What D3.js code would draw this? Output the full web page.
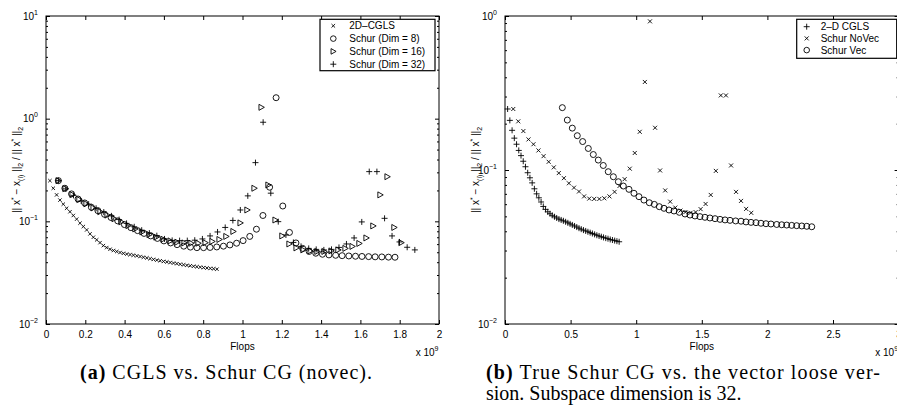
<!DOCTYPE html>
<html>
<head>
<meta charset="utf-8">
<script src="https://cdn.jsdelivr.net/npm/d3@7"></script>
<style>
  body { margin: 0; background: #fff; }
  svg { display: block; font-family: "Liberation Sans", Arial, sans-serif; }
</style>
</head>
<body>
<div id="chart"></div>
<script>
// flops are in units of 1e9, errors are relative 2-norm errors

// 2-D CGLS (same run in both panels)
var cglsFlops = [0.020, 0.037, 0.054, 0.071, 0.088, 0.105, 0.122, 0.139, 0.156, 0.173,
  0.190, 0.207, 0.224, 0.241, 0.258, 0.275, 0.292, 0.309, 0.326, 0.343,
  0.360, 0.377, 0.394, 0.411, 0.428, 0.445, 0.462, 0.479, 0.496, 0.513,
  0.530, 0.547, 0.564, 0.581, 0.598, 0.615, 0.632, 0.649, 0.666, 0.683,
  0.700, 0.717, 0.734, 0.751, 0.768, 0.785, 0.802, 0.819, 0.836, 0.853, 0.870];
var cglsErr = [0.249, 0.210, 0.181, 0.161, 0.147, 0.134, 0.124, 0.114, 0.105, 0.096,
  0.089, 0.0825, 0.0755, 0.070, 0.066, 0.062, 0.058, 0.0555, 0.0535, 0.0520,
  0.0508, 0.0497, 0.0488, 0.0480, 0.0474, 0.0468, 0.0461, 0.0454, 0.0447, 0.0440,
  0.0433, 0.0426, 0.0419, 0.0413, 0.0407, 0.0402, 0.0397, 0.0392, 0.0387, 0.0382,
  0.0377, 0.0373, 0.0369, 0.0365, 0.0361, 0.0358, 0.0354, 0.0351, 0.0348, 0.0345, 0.0342];

// Schur, subspace dim 8
var dim8Flops = [0.063, 0.096, 0.130, 0.163, 0.197, 0.231, 0.264, 0.298, 0.331, 0.365,
  0.399, 0.432, 0.466, 0.499, 0.533, 0.567, 0.600, 0.634, 0.667, 0.701,
  0.735, 0.768, 0.802, 0.835, 0.869, 0.903, 0.936, 0.970, 1.003, 1.037,
  1.071, 1.104, 1.138, 1.171, 1.205, 1.239, 1.272, 1.306, 1.339, 1.373,
  1.407, 1.440, 1.474, 1.507, 1.541, 1.575, 1.608, 1.642, 1.675, 1.709, 1.743, 1.776];
var dim8Err = [0.249, 0.210, 0.185, 0.165, 0.151, 0.137, 0.127, 0.117, 0.109, 0.101,
  0.093, 0.0868, 0.0812, 0.0763, 0.0721, 0.0682, 0.0645, 0.0616, 0.0593, 0.0573,
  0.0561, 0.0554, 0.0554, 0.0557, 0.0563, 0.0573, 0.0589, 0.0612, 0.0649, 0.0713,
  0.0838, 0.114, 0.215, 1.60, 0.141, 0.078, 0.0616, 0.0545, 0.0509, 0.0489,
  0.0478, 0.0471, 0.0467, 0.0463, 0.0460, 0.0457, 0.0455, 0.0453, 0.0451, 0.0450, 0.0448, 0.0447];

// Schur, subspace dim 16
var dim16Flops = [0.063, 0.098, 0.134, 0.169, 0.205, 0.241, 0.276, 0.312, 0.348, 0.383,
  0.419, 0.454, 0.490, 0.526, 0.561, 0.597, 0.633, 0.668, 0.704, 0.739,
  0.775, 0.811, 0.846, 0.882, 0.917, 0.953, 0.989, 1.024, 1.060, 1.096,
  1.131, 1.167, 1.202, 1.238, 1.274, 1.309, 1.345, 1.380, 1.416, 1.452,
  1.487, 1.523, 1.559, 1.594, 1.630, 1.665, 1.701, 1.737, 1.772, 1.808];
var dim16Err = [0.249, 0.208, 0.182, 0.163, 0.148, 0.135, 0.124, 0.115, 0.106, 0.0987,
  0.0908, 0.0843, 0.0788, 0.0742, 0.0702, 0.0669, 0.0645, 0.0626, 0.0616, 0.0612,
  0.0612, 0.0619, 0.0637, 0.0666, 0.0713, 0.0797, 0.0965, 0.129, 0.210, 1.29,
  0.226, 0.103, 0.0721, 0.0602, 0.0551, 0.0527, 0.0515, 0.0509, 0.0509, 0.0515,
  0.0527, 0.0545, 0.0570, 0.0609, 0.0689, 0.0902, 0.181, 0.272, 0.0872, 0.0620];

// Schur, subspace dim 32 (no vec) -- also "Schur NoVec" in panel b
var dim32Flops = [0.063, 0.101, 0.140, 0.179, 0.217, 0.255, 0.294, 0.333, 0.372, 0.410,
  0.449, 0.487, 0.526, 0.564, 0.603, 0.642, 0.680, 0.719, 0.757, 0.796,
  0.835, 0.873, 0.912, 0.951, 0.989, 1.027, 1.066, 1.105, 1.144, 1.182,
  1.221, 1.259, 1.298, 1.337, 1.375, 1.414, 1.453, 1.491, 1.529, 1.568,
  1.607, 1.645, 1.684, 1.723, 1.761, 1.799, 1.838, 1.877];
var dim32Err = [0.249, 0.207, 0.179, 0.158, 0.147, 0.134, 0.123, 0.113, 0.104, 0.0955,
  0.0885, 0.082, 0.0768, 0.0725, 0.0674, 0.0652, 0.0649, 0.0649, 0.0655, 0.0674,
  0.0721, 0.0788, 0.0872, 0.102, 0.129, 0.177, 0.373, 0.923, 0.188, 0.0993,
  0.0737, 0.0623, 0.0570, 0.0545, 0.0533, 0.0527, 0.0533, 0.0557, 0.0602, 0.0689,
  0.0987, 0.305, 0.305, 0.107, 0.0721, 0.0630, 0.0559, 0.0527];

// Schur with vector loose restart, dim 32
var vecFlops = [0.437, 0.475, 0.513, 0.551, 0.592, 0.635, 0.673, 0.711, 0.749, 0.787,
  0.826, 0.864, 0.902, 0.945, 0.983, 1.021, 1.059, 1.100, 1.138, 1.176,
  1.212, 1.250, 1.288, 1.329, 1.372, 1.410, 1.448, 1.486, 1.524, 1.562,
  1.601, 1.639, 1.677, 1.715, 1.758, 1.799, 1.837, 1.875, 1.913, 1.951,
  1.989, 2.027, 2.071, 2.109, 2.147, 2.185, 2.223, 2.262, 2.300, 2.338];
var vecErr = [0.254, 0.211, 0.187, 0.167, 0.153, 0.138, 0.126, 0.116, 0.107, 0.0975,
  0.0904, 0.0839, 0.0787, 0.0749, 0.0706, 0.0671, 0.0638, 0.0613, 0.0598, 0.0578,
  0.0564, 0.0550, 0.0542, 0.0531, 0.0518, 0.0510, 0.0503, 0.0498, 0.0493, 0.0488,
  0.0483, 0.0478, 0.0474, 0.0471, 0.0467, 0.0465, 0.0460, 0.0457, 0.0455, 0.0451,
  0.0448, 0.0446, 0.0443, 0.0441, 0.0439, 0.0437, 0.0435, 0.0433, 0.0431, 0.0428];

// ticks
var xTicksA = [0, 0.2, 0.4, 0.6, 0.8, 1, 1.2, 1.4, 1.6, 1.8, 2];
var xTicksB = [0, 0.5, 1, 1.5, 2, 2.5, 3];
var yDecadesA = [-2, -1, 0, 1];
var yDecadesB = [-2, -1, 0];

var legendA = ["2D\u2013CGLS", "Schur (Dim = 8)", "Schur (Dim = 16)", "Schur (Dim = 32)"];
var legendB = ["2\u2013D CGLS", "Schur NoVec", "Schur Vec"];


var svg = d3.select("#chart")
  .append("svg")
    .attr("width", 897)
    .attr("height", 419);

// marker shapes, centred on 0,0
function markerPath(type, s) {
  if (type == "x") return "M" + (-s) + "," + (-s) + "L" + s + "," + s + "M" + (-s) + "," + s + "L" + s + "," + (-s);
  if (type == "+") return "M" + (-s) + ",0L" + s + ",0M0," + (-s) + "L0," + s;
  if (type == "o") return "M" + s + ",0A" + s + "," + s + " 0 1,1 " + (-s) + ",0A" + s + "," + s + " 0 1,1 " + s + ",0Z";
  if (type == ">") return "M" + (-s * 0.8) + "," + (-s) + "L" + s + ",0L" + (-s * 0.8) + "," + s + "Z";
}

function drawPanel(p) {
  var g = svg.append("g")
    .attr("transform", "translate(" + p.left + "," + p.top + ")");

  var x = d3.scaleLinear().domain(p.xDomain).range([0, p.width]);
  var y = d3.scaleLog().domain(p.yDomain).range([p.height, 0]);

  var majors = p.decades.map(function(d) { return Math.pow(10, d); });
  var minors = [];
  p.decades.slice(0, -1).forEach(function(d) {
    for (var k = 2; k <= 9; k++) minors.push(k * Math.pow(10, d));
  });

  // x axes (ticks inward)
  var xb = g.append("g")
    .attr("transform", "translate(0," + p.height + ")")
    .call(d3.axisBottom(x).tickValues(p.xTicks).tickSize(-4).tickPadding(7)
      .tickFormat(function(d) { return String(d); }));
  xb.attr("font-family", null).attr("font-size", 10);
  g.append("g").call(d3.axisTop(x).tickValues(p.xTicks).tickSize(-4).tickFormat(""));

  // y axes, majors + minors, both sides
  g.append("g").call(d3.axisLeft(y).tickValues(majors).tickSize(-4).tickFormat(""));
  g.append("g").call(d3.axisLeft(y).tickValues(minors).tickSize(-2).tickFormat(""));
  g.append("g").attr("transform", "translate(" + p.width + ",0)")
    .call(d3.axisRight(y).tickValues(majors).tickSize(-4).tickFormat(""));
  g.append("g").attr("transform", "translate(" + p.width + ",0)")
    .call(d3.axisRight(y).tickValues(minors).tickSize(-2).tickFormat(""));
  g.selectAll(".domain").remove();

  g.append("rect")
    .attr("width", p.width)
    .attr("height", p.height)
    .attr("fill", "none")
    .attr("stroke", "#000")
    .attr("stroke-width", 1);

  // y tick labels 10^k
  g.selectAll(".ylab")
    .data(p.decades)
    .enter().append("text")
      .attr("class", "ylab")
      .attr("x", -8)
      .attr("y", function(d) { return y(Math.pow(10, d)) + 3.5; })
      .attr("text-anchor", "end")
      .attr("font-size", 10)
      .each(function(d) {
        var t = d3.select(this);
        t.append("tspan").text("10");
        t.append("tspan").attr("dy", -5).attr("font-size", 7)
          .text(d < 0 ? "\u2212" + (-d) : String(d));
      });

  // axis labels
  g.append("text")
    .attr("x", p.width / 2)
    .attr("y", p.height + 26)
    .attr("text-anchor", "middle")
    .attr("font-size", 10)
    .text("Flops");

  var sc = g.append("text")
    .attr("x", p.width - 0.5)
    .attr("y", p.height + 32)
    .attr("text-anchor", "end")
    .attr("font-size", 10);
  sc.append("tspan").text("x 10");
  sc.append("tspan").attr("dy", -5).attr("font-size", 7).text("9");

  var yl = g.append("text")
    .attr("transform", "translate(-26," + (p.height / 2) + ") rotate(-90)")
    .attr("text-anchor", "middle")
    .attr("font-size", 10);
  yl.append("tspan").text("|| x");
  yl.append("tspan").attr("dy", -4).attr("font-size", 7).text("*");
  yl.append("tspan").attr("dy", 4).text(" \u2212 x");
  yl.append("tspan").attr("dy", 2.5).attr("font-size", 7).text("(i)");
  yl.append("tspan").attr("dy", -2.5).text(" ||");
  yl.append("tspan").attr("dy", 2.5).attr("font-size", 7).text("2");
  yl.append("tspan").attr("dy", -2.5).text(" / || x");
  yl.append("tspan").attr("dy", -4).attr("font-size", 7).text("*");
  yl.append("tspan").attr("dy", 4).text(" ||");
  yl.append("tspan").attr("dy", 2.5).attr("font-size", 7).text("2");

  // the data
  p.series.forEach(function(s) {
    g.append("g")
      .selectAll("path")
      .data(d3.zip(s.xs, s.ys))
      .enter().append("path")
        .attr("transform", function(d) { return "translate(" + x(d[0]) + "," + y(d[1]) + ")"; })
        .attr("d", markerPath(s.marker, s.size))
        .attr("fill", "none")
        .attr("stroke", "#000")
        .attr("stroke-width", 0.9);
  });

  // legend
  var L = p.legend;
  var lg = g.append("g").attr("transform", "translate(" + L.x + "," + L.y + ")");
  lg.append("rect")
    .attr("width", L.w)
    .attr("height", L.h)
    .attr("fill", "#fff")
    .attr("stroke", "#000")
    .attr("stroke-width", 1.2);
  var row = lg.selectAll(".lrow")
    .data(L.labels)
    .enter().append("g")
      .attr("class", "lrow")
      .attr("transform", function(d, i) { return "translate(0," + (L.first + i * L.step) + ")"; });
  row.append("path")
    .attr("transform", "translate(" + L.mx + ",0)")
    .attr("d", function(d, i) { return markerPath(L.markers[i], L.sizes[i]); })
    .attr("fill", "none")
    .attr("stroke", "#000")
    .attr("stroke-width", 0.9);
  row.append("text")
    .attr("x", L.tx)
    .attr("y", 3.6)
    .attr("font-size", 10)
    .text(function(d) { return d; });
}

drawPanel({
  left: 46, top: 16, width: 393, height: 308,
  xDomain: [0, 2], yDomain: [0.01, 10],
  xTicks: xTicksA, decades: yDecadesA,
  series: [
    {xs: cglsFlops, ys: cglsErr, marker: "x", size: 1.7},
    {xs: dim8Flops, ys: dim8Err, marker: "o", size: 3},
    {xs: dim16Flops, ys: dim16Err, marker: ">", size: 3},
    {xs: dim32Flops, ys: dim32Err, marker: "+", size: 3}
  ],
  legend: {x: 274, y: 3.3, w: 115, h: 51.4, first: 6.5, step: 12.8, mx: 13.3, tx: 29.3,
    labels: legendA, markers: ["x", "o", ">", "+"], sizes: [1.8, 2.8, 2.8, 3]}
});

drawPanel({
  left: 505, top: 16, width: 393.6, height: 308,
  xDomain: [0, 3], yDomain: [0.01, 1],
  xTicks: xTicksB, decades: yDecadesB,
  series: [
    {xs: cglsFlops, ys: cglsErr, marker: "+", size: 3},
    {xs: dim32Flops, ys: dim32Err, marker: "x", size: 2},
    {xs: vecFlops, ys: vecErr, marker: "o", size: 3}
  ],
  legend: {x: 291.7, y: 3.3, w: 100, h: 39, first: 7.4, step: 11.7, mx: 10, tx: 24,
    labels: legendB, markers: ["+", "x", "o"], sizes: [3, 2, 2.8]}
});

// captions
function caption(xPos, yPos, bold, rest, len) {
  var t = svg.append("text")
    .attr("x", xPos)
    .attr("y", yPos)
    .attr("font-family", "'Liberation Serif', 'Times New Roman', serif")
    .attr("font-size", 20);
  if (len) t.attr("textLength", len).attr("lengthAdjust", "spacing");
  if (bold) t.append("tspan").attr("font-weight", "bold").text(bold);
  t.append("tspan").text(rest);
}
caption(80, 379, "(a)", " CGLS vs. Schur CG (novec).", 292);
caption(486, 379, "(b)", " True Schur CG vs. the vector loose ver-", 394);
caption(486, 399.5, null, "sion. Subspace dimension is 32.", null);
</script>
</body>
</html>
